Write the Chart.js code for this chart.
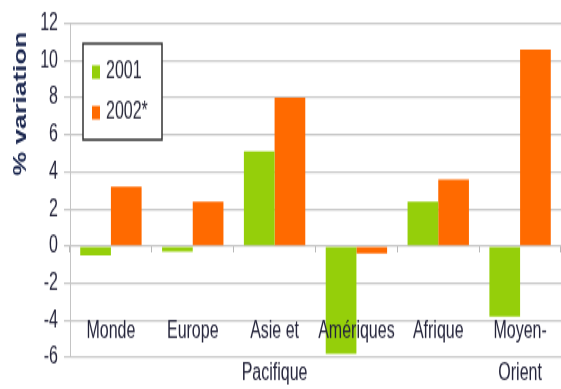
<!DOCTYPE html>
<html>
<head>
<meta charset="utf-8">
<script src="https://cdn.jsdelivr.net/npm/chart.js@4.4.1/dist/chart.umd.min.js"></script>
<style>
    html, body { margin: 0; padding: 0; background: #fff; }
    #outer { width: 561px; height: 389px; position: relative; }
    /* l'image d'origine est étirée verticalement : on reproduit l'effet */
    #wrap { position: absolute; left: 0; top: 0; width: 561px; height: 259px; transform: scaleY(1.502); transform-origin: 0 0; }
</style>
</head>
<body>
<div id="outer"><div id="wrap"><canvas id="chart" width="561" height="259"></canvas></div></div>
<script>
// Données
const categories = ['Monde', 'Europe', ['Asie et', 'Pacifique'], 'Amériques', 'Afrique', ['Moyen-', 'Orient']];
const seriesLabels = ['2001', '2002*'];
const values2001 = [-0.5, -0.3, 5.1, -5.8, 2.4, -3.8];
const values2002 = [3.2, 2.4, 8.0, -0.4, 3.6, 10.6];
const yTicks = [-6, -4, -2, 0, 2, 4, 6, 8, 10, 12];
const yTitle = '% variation';

const colors = ['#95cf0a', '#ff6a00'];
const FONT = 'Liberation Sans, Arial, sans-serif';

// Légende dans la zone du graphique + titre de l'axe Y
const extrasPlugin = {
    id: 'extras',
    afterDraw: (chart) => {
        const ctx = chart.ctx;
        ctx.save();
        // cadre de la légende
        ctx.strokeStyle = '#333';
        ctx.lineWidth = 1.5;
        ctx.fillStyle = '#fff';
        ctx.fillRect(83, 29, 79, 64);
        ctx.strokeRect(83, 29, 79, 64);
        chart.data.datasets.forEach((ds, i) => {
            const y = 48 + i * 27;
            ctx.fillStyle = ds.backgroundColor;
            ctx.fillRect(92, y - 4.5, 8, 9);
            ctx.fillStyle = '#2a2a3a';
            ctx.font = '16px ' + FONT;
            ctx.textBaseline = 'middle';
            ctx.textAlign = 'left';
            ctx.fillText(ds.label, 106, y);
        });
        // titre de l'axe
        ctx.translate(21, 69);
        ctx.rotate(-Math.PI / 2);
        ctx.font = 'bold 18px ' + FONT;
        ctx.fillStyle = '#1c2850';
        ctx.textAlign = 'center';
        ctx.textBaseline = 'middle';
        ctx.fillText(yTitle, 0, 0);
        ctx.restore();
    }
};

const noHeight = (scale) => { scale.height = 0; };

const initChart = () => {
    const ctx = document.getElementById('chart').getContext('2d');
    new Chart(ctx, {
        type: 'bar',
        data: {
            labels: categories,
            datasets: [
                { label: seriesLabels[0], data: values2001, backgroundColor: colors[0] },
                { label: seriesLabels[1], data: values2002, backgroundColor: colors[1] }
            ]
        },
        options: {
            responsive: false,
            animation: false,
            devicePixelRatio: 1,
            categoryPercentage: 0.75,
            barPercentage: 1.0,
            layout: { padding: { top: 11, bottom: 21, right: 0, left: 0 } },
            plugins: {
                legend: { display: false },
                tooltip: { enabled: false }
            },
            scales: {
                x: {
                    position: { y: -4 },
                    afterFit: noHeight,
                    grid: { display: false, drawTicks: false },
                    border: { display: false },
                    ticks: {
                        z: 1, // libellés par-dessus les barres
                        color: '#24243a',
                        padding: -7,
                        maxRotation: 0,
                        autoSkip: false,
                        font: { family: FONT, size: 16, lineHeight: 1.75 }
                    }
                },
                x2: {
                    type: 'category',
                    labels: categories,
                    position: { y: 0 },
                    offset: true,
                    afterFit: noHeight,
                    grid: { offset: true, drawOnChartArea: false, tickLength: 4, color: '#b8b8b8' },
                    border: { display: false },
                    ticks: { display: false }
                },
                y: {
                    min: yTicks[0],
                    max: yTicks[yTicks.length - 1],
                    afterBuildTicks: (scale) => {
                        scale.ticks = yTicks.map(v => ({ value: v }));
                    },
                    afterFit: (scale) => { scale.width = 70; },
                    grid: { color: '#c8c8c8', lineWidth: 1.2, tickLength: 6 },
                    border: { color: '#c4c4c4', width: 1 },
                    ticks: {
                        color: '#24243a',
                        padding: 6,
                        font: { family: FONT, size: 16 }
                    }
                }
            }
        },
        plugins: [extrasPlugin]
    });
};

document.addEventListener('DOMContentLoaded', initChart);
</script>
</body>
</html>
